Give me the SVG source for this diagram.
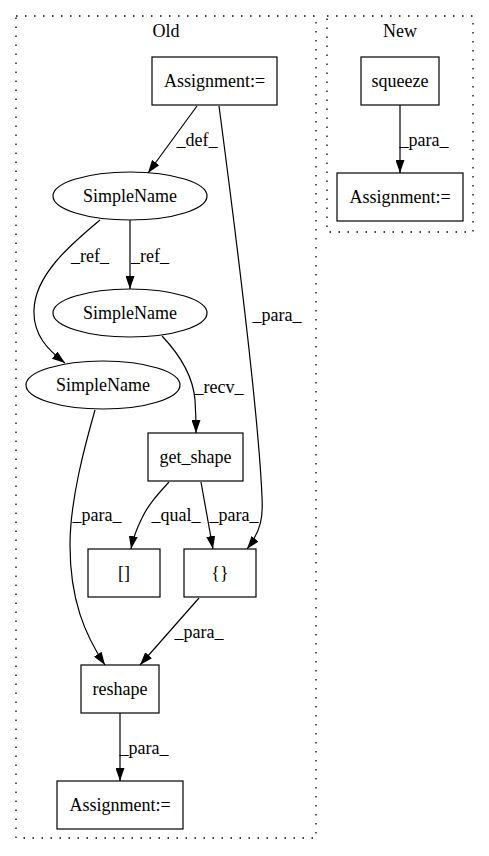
<svg xmlns="http://www.w3.org/2000/svg" width="489" height="856" viewBox="0 0 489 856">
<defs>
<marker id="arr" viewBox="0 0 10 7" refX="10" refY="3.5" markerWidth="13" markerHeight="9" markerUnits="userSpaceOnUse" orient="auto" preserveAspectRatio="none">
<path d="M0,0 L10,3.5 L0,7 z" fill="#000"/>
</marker>
<style>
text{font-family:"Liberation Serif","Times New Roman",serif;font-size:18px;fill:#000}
.n text,.c text{text-anchor:middle}
.n rect,.n ellipse{fill:none;stroke:#000;stroke-width:1.2}
.cl{fill:none;stroke:#000;stroke-width:1.3;stroke-dasharray:1.5,7.5}
.e path{fill:none;stroke:#000;stroke-width:1.2;marker-end:url(#arr)}
.e text{text-anchor:middle}
</style>
</defs>
<rect width="489" height="856" fill="#fff"/>
<g id="cluster_old" class="c">
<rect class="cl" x="16" y="16" width="300" height="822"/>
<text x="166" y="37">Old</text>
</g>
<g id="cluster_new" class="c">
<rect class="cl" x="327" y="16" width="146" height="216"/>
<text x="400" y="37">New</text>
</g>
<g id="edges" class="e">
<path d="M197,106 L148,173"/>
<text x="197" y="146">_def_</text>
<path d="M219,106 C230,190 258,400 262,497 C263,515 262,530 247,549"/>
<text x="277" y="321">_para_</text>
<path d="M130,220 L130,289"/>
<text x="150" y="262">_ref_</text>
<path d="M100,220 C70,245 35,275 34,310 C33,335 48,350 65,363"/>
<text x="90" y="262">_ref_</text>
<path d="M162,336 C180,355 193,375 195,400 C196,415 196,425 196,433"/>
<text x="219" y="393">_recv_</text>
<path d="M95,410 C85,445 70,500 70,545 C70,600 85,635 105,665"/>
<text x="97" y="521">_para_</text>
<path d="M169,482 C158,494 148,505 142,518 C137,528 133,538 131,549"/>
<text x="176" y="521">_qual_</text>
<path d="M201,482 L213,549"/>
<text x="234" y="521">_para_</text>
<path d="M199,598 L140,665"/>
<text x="199" y="638">_para_</text>
<path d="M120,713 L120,781"/>
<text x="144" y="754">_para_</text>
<path d="M400,105 L400,173"/>
<text x="424" y="146">_para_</text>
</g>
<g id="assign_old1" class="n"><rect x="152" y="57" width="125" height="48"/><text x="214.5" y="87">Assignment:=</text></g>
<g id="simplename1" class="n"><ellipse cx="130" cy="196" rx="77" ry="24"/><text x="130" y="202">SimpleName</text></g>
<g id="simplename2" class="n"><ellipse cx="130" cy="313" rx="77" ry="24"/><text x="130" y="319">SimpleName</text></g>
<g id="simplename3" class="n"><ellipse cx="103" cy="385" rx="77" ry="24"/><text x="103" y="391">SimpleName</text></g>
<g id="get_shape" class="n"><rect x="148" y="433" width="95" height="48"/><text x="195.5" y="463">get_shape</text></g>
<g id="brackets" class="n"><rect x="88" y="549" width="72" height="48"/><text x="124" y="579">[]</text></g>
<g id="braces" class="n"><rect x="184" y="549" width="72" height="48"/><text x="220" y="579">{}</text></g>
<g id="reshape" class="n"><rect x="81" y="665" width="78" height="48"/><text x="120" y="695">reshape</text></g>
<g id="assign_old2" class="n"><rect x="57" y="781" width="126" height="48"/><text x="120" y="811">Assignment:=</text></g>
<g id="squeeze" class="n"><rect x="361" y="57" width="78" height="48"/><text x="400" y="87">squeeze</text></g>
<g id="assign_new" class="n"><rect x="337" y="173" width="126" height="48"/><text x="400" y="203">Assignment:=</text></g>
</svg>
